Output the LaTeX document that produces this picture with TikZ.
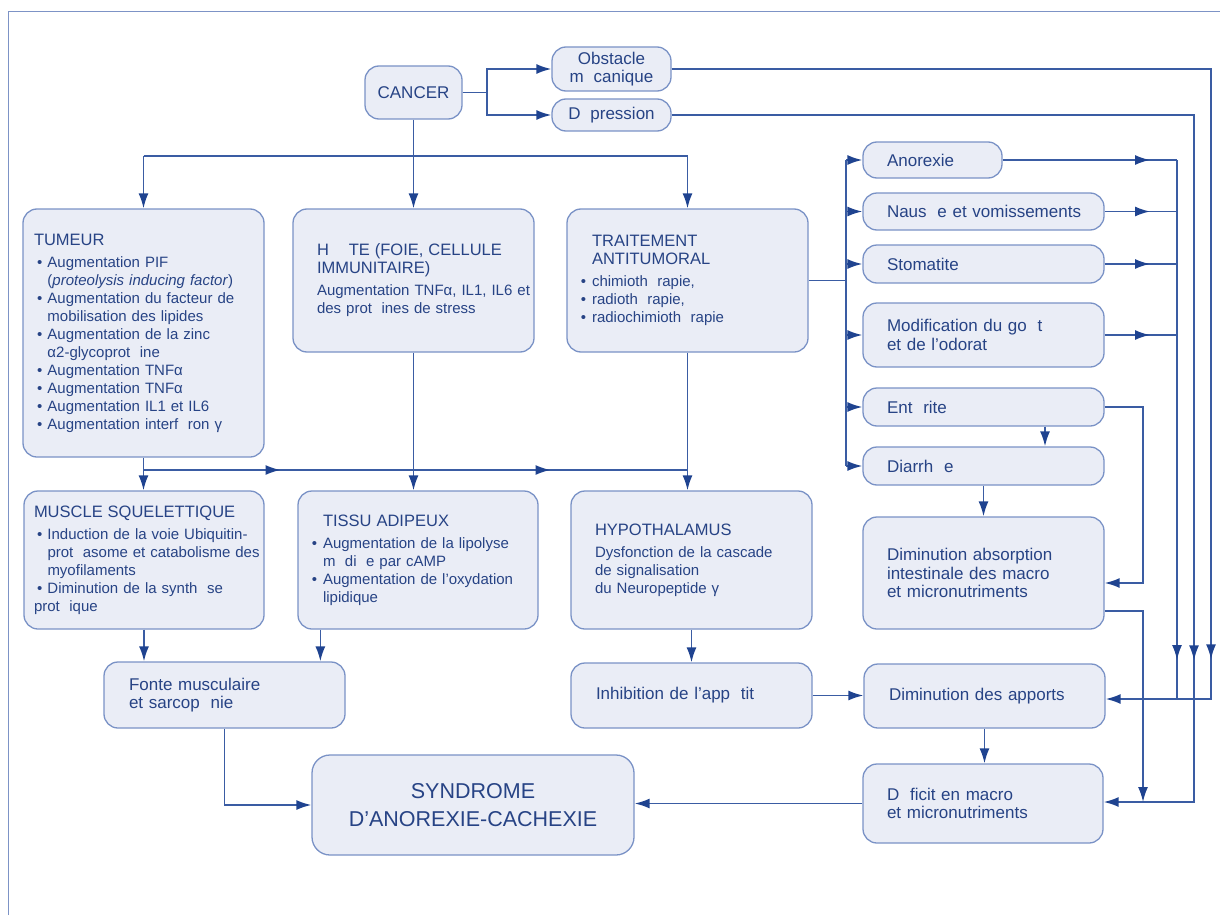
\documentclass[tikz,border=0pt]{standalone}
\usepackage{fontspec}
\setmainfont{Liberation Sans}
\usetikzlibrary{arrows.meta,decorations.markings}

\definecolor{fond}{HTML}{EAEDF6}
\definecolor{bord}{HTML}{7A92C6}
\definecolor{filet}{HTML}{3A5CA3}
\definecolor{pointe}{HTML}{1F4390}
\definecolor{encre}{HTML}{274385}
\definecolor{cadre}{HTML}{7D93C6}

\newcommand\corps{\fontsize{15}{18}\selectfont}
\newcommand\moyen{\fontsize{17}{18.5}\selectfont}
\newcommand\titre{\fontsize{16.5}{18}\selectfont}
\newcommand\grand{\fontsize{21.5}{28}\selectfont}
\newcommand\creux{\kern.3em\ }
\newcommand\entete[1]{{\titre #1\par}\vspace{4pt}}
\newcommand\puce{\par\hangindent=13.5pt\hangafter=1\noindent\hspace*{3pt}\makebox[10.5pt][l]{\textbullet}}
\newcommand\pucem{\par\noindent\llap{\textbullet\hspace{6pt}}}

\begin{document}
\begin{tikzpicture}
[
    x=1pt, y=-1pt,
    >={Latex[length=15pt,width=10pt,color=pointe]},
    boite/.style={draw=bord, fill=fond, line width=1.3pt, rounded corners=14pt,
        text=encre, font=\corps, inner xsep=0pt, inner ysep=3pt, align=left},
    gauche/.style={execute at begin node={\leftskip=#1\relax}},
    ligne/.style={color=filet, line width=1.7pt},
    fl/.style={ligne, ->},
    fm/.style={postaction={decorate, decoration={markings, mark=at position #1 with {\arrow{>}}}}},
]
\useasboundingbox (0,0) rectangle (1220,915);
\draw[cadre, line width=1pt] (8,915) -- (8,12) -- (1220,12);

\node[boite, align=center, font=\moyen, minimum width=97pt, minimum height=53pt] (cancer) at (413.5,92.5) {CANCER};
\node[boite, align=center, font=\moyen, minimum width=119pt, minimum height=44pt] (obst) at (611.5,69) {Obstacle\\m\creux canique};
\node[boite, align=center, font=\moyen, minimum width=119pt, minimum height=32pt] (depr) at (611.5,115) {D\creux pression};

\node[boite, gauche=11pt, text width=241pt, minimum height=248pt] (tum) at (143.5,333)
{\entete{TUMEUR}\puce Augmentation PIF\newline(\textit{proteolysis inducing factor})\puce Augmentation du facteur de\newline mobilisation des lipides\puce Augmentation de la zinc\newline α2-glycoprot\creux ine\puce Augmentation TNFα\puce Augmentation TNFα\puce Augmentation IL1 et IL6\puce Augmentation interf\creux ron γ};
\node[boite, gauche=24pt, text width=241pt, minimum height=143pt] (hote) at (413.5,280.5)
{\entete{H\creux\creux TE (FOIE, CELLULE\\IMMUNITAIRE)}Augmentation TNFα, IL1, IL6 et\\des prot\creux ines de stress};
\node[boite, gauche=25pt, text width=241pt, minimum height=143pt] (trait) at (687.5,280.5)
{\entete{TRAITEMENT\\ANTITUMORAL}\pucem chimioth\creux rapie,\pucem radioth\creux rapie,\pucem radiochimioth\creux rapie};

\node[boite, gauche=24pt, font=\moyen, text width=139pt, minimum height=36pt] (anor) at (932.5,160) {Anorexie};
\node[boite, gauche=24pt, font=\moyen, text width=241pt, minimum height=37pt] (naus) at (983.5,211.5) {Naus\creux e et vomissements};
\node[boite, gauche=24pt, font=\moyen, text width=241pt, minimum height=38pt] (stom) at (983.5,264) {Stomatite};
\node[boite, gauche=24pt, font=\moyen, text width=241pt, minimum height=64pt] (modif) at (983.5,335) {Modification du go\creux t\\et de l’odorat};
\node[boite, gauche=24pt, font=\moyen, text width=241pt, minimum height=38pt] (enter) at (983.5,407) {Ent\creux rite};
\node[boite, gauche=24pt, font=\moyen, text width=241pt, minimum height=38pt] (diar) at (983.5,466) {Diarrh\creux e};
\node[boite, gauche=24pt, font=\moyen, text width=241pt, minimum height=112pt] (absorp) at (983.5,573) {Diminution absorption\\intestinale des macro\\et micronutriments};

\node[boite, gauche=10pt, text width=240pt, minimum height=138pt] (musc) at (144,560)
{\entete{MUSCLE SQUELETTIQUE}\puce Induction de la voie Ubiquitin-\newline prot\creux asome et catabolisme des\newline myofilaments\puce Diminution de la synth\creux se\newline prot\creux ique};
\node[boite, gauche=25pt, text width=240pt, minimum height=138pt] (tissu) at (418,560)
{\entete{TISSU ADIPEUX}\pucem Augmentation de la lipolyse\newline m\creux di\creux e par cAMP\pucem Augmentation de l’oxydation\newline lipidique};
\node[boite, gauche=24pt, text width=241pt, minimum height=138pt] (hypo) at (691.5,560)
{\entete{HYPOTHALAMUS}Dysfonction de la cascade\\de signalisation\\du Neuropeptide γ};

\node[boite, gauche=25pt, font=\moyen, text width=241pt, minimum height=66pt] (fonte) at (224.5,695) {Fonte musculaire\\et sarcop\creux nie};
\node[boite, gauche=25pt, font=\moyen, text width=241pt, minimum height=65pt] (inhib) at (691.5,695.5) {Inhibition de l’app\creux tit};
\node[boite, gauche=25pt, font=\moyen, text width=241pt, minimum height=64pt] (apports) at (984.5,696) {Diminution des apports};
\node[boite, gauche=24pt, font=\moyen, text width=240pt, minimum height=79pt] (def) at (983,803.5) {D\creux ficit en macro\\et micronutriments};
\node[boite, align=center, font=\grand, rounded corners=18pt, minimum width=322pt, minimum height=100pt] (synd) at (473,805) {SYNDROME\\D’ANOREXIE-CACHEXIE};

\coordinate (hb) at (413.5,156);
\coordinate (mb) at (143.5,470);
\coordinate (tb) at (846,280.5);
\coordinate (bus) at (1177,699);
\coordinate (bo) at (1211,699);
\coordinate (bd) at (1194,802);
\coordinate (ea) at (1143,583);
\coordinate (eb) at (1143,802);

\draw[fl] (cancer.east) -- ++(24,0) |- (obst.west);
\draw[fl] (cancer.east) -- ++(24,0) |- (depr.west);
\draw[fl, fm=-145pt] (obst.east) -| (bo) -- (bo -| apports.east);
\draw[fl, fm=-232pt] (depr.east) -| (bd) -- (bd -| def.east);

\draw[fl] (cancer.south) -- (hote.north);
\draw[ligne] (hb -| tum.north) -- (hb -| trait.north);
\draw[fl] (hb -| tum.north) -- (tum.north);
\draw[fl] (hb -| trait.north) -- (trait.north);

\draw[fl] (tum.south) -- (tum.south |- musc.north);
\draw[ligne, fm=137pt, fm=407pt] (mb) -- (mb -| trait.south);
\draw[fl] (hote.south) -- (hote.south |- tissu.north);
\draw[fl] (trait.south) -- (trait.south |- hypo.north);

\draw[ligne] (trait.east) -- (tb);
\draw[ligne] (tb |- anor.west) -- (tb |- diar.west);
\foreach \n in {anor,naus,stom,modif,enter,diar}
    \draw[fl] (tb |- \n.west) -- (\n.west);
\foreach \n in {anor,naus,stom,modif}
    \draw[ligne, fm=-27pt] (\n.east) -- (\n.east -| bus);
\draw[ligne, fm=-39pt] (anor.east -| bus) -- (bus);

\draw[fl] ([xshift=61.5pt]enter.south) -- ([xshift=61.5pt]enter.south |- diar.north);
\draw[fl] (diar.south) -- (absorp.north);
\draw[fl] (enter.east) -| (ea) -- (ea -| absorp.east);
\draw[fl] ([yshift=-38pt]absorp.east) -| (eb);

\draw[fl] (musc.south) -- (musc.south |- fonte.north);
\draw[fl] ([xshift=23pt]tissu.south west) -- ([xshift=23pt]tissu.south west |- fonte.north);
\draw[fl] (hypo.south) -- (inhib.north);
\draw[fl] (inhib.east) -- (inhib.east -| apports.west);
\draw[fl] (apports.south) -- (apports.south |- def.north);
\draw[fl] (def.west) -- (def.west -| synd.east);
\draw[fl] (fonte.south) |- (synd.west);
\end{tikzpicture}
\end{document}
